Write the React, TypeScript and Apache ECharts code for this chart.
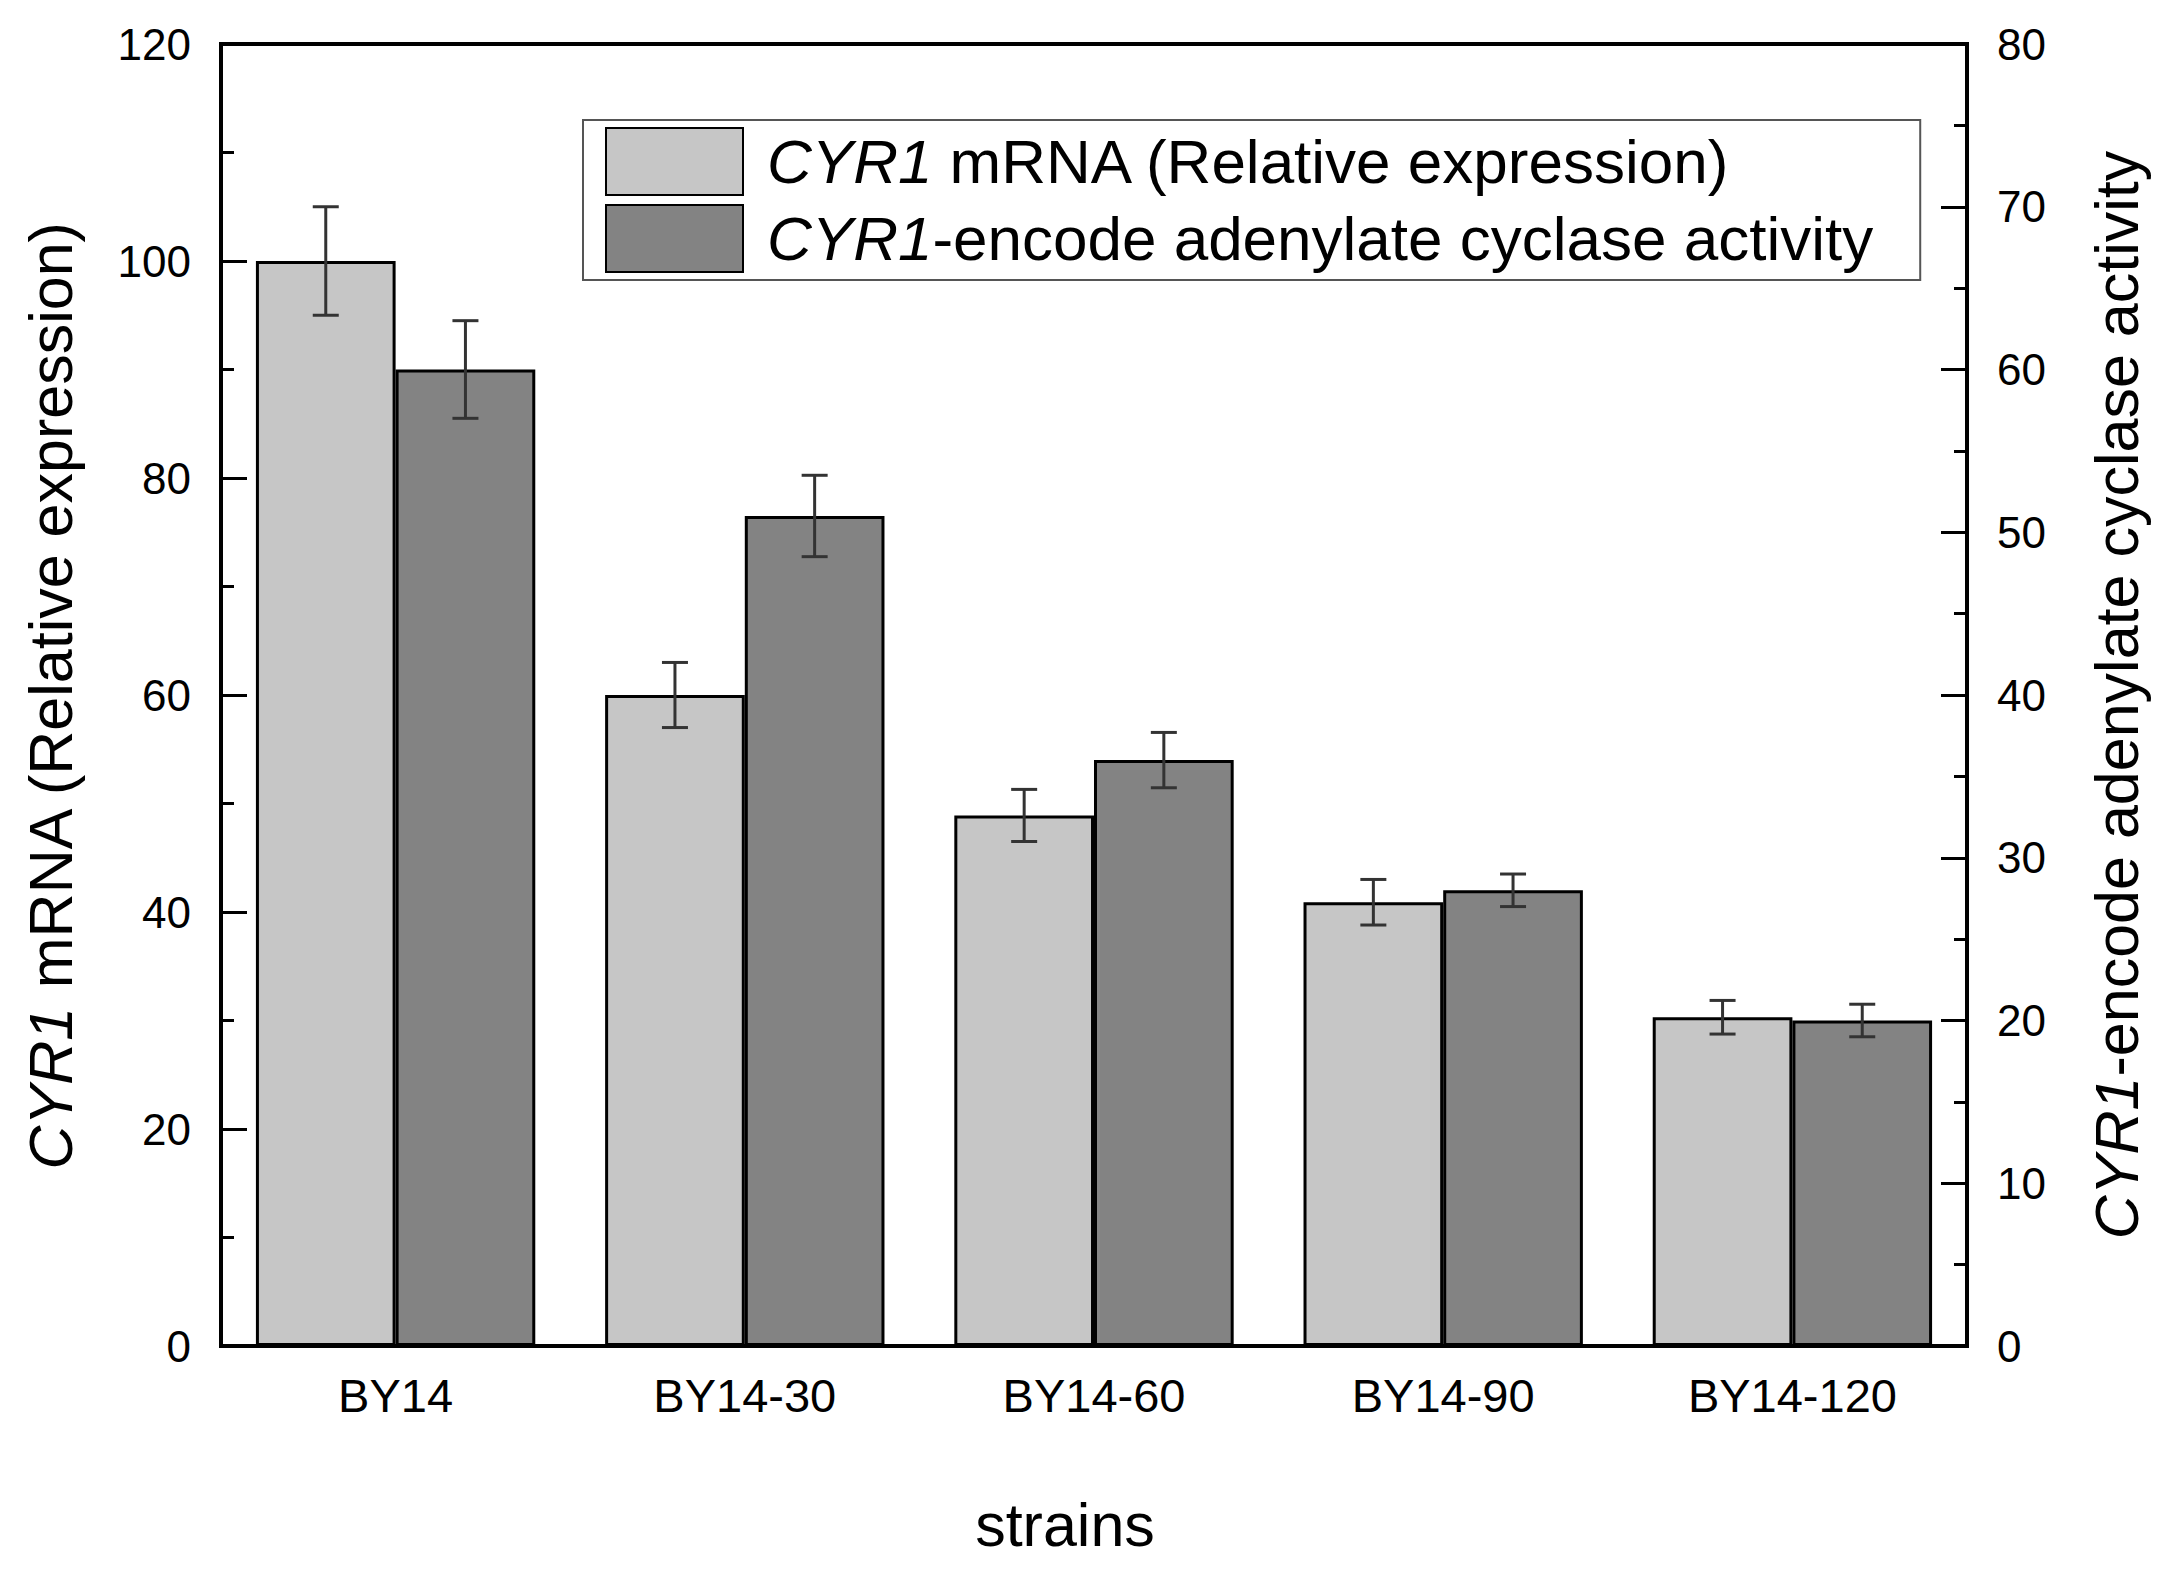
import React, { useEffect, useRef } from 'react';
import * as echarts from 'echarts';

const categories = ['BY14', 'BY14-30', 'BY14-60', 'BY14-90', 'BY14-120'];
const mrnaName = 'CYR1 mRNA (Relative expression)';
const activityName = 'CYR1-encode adenylate cyclase activity';
const mrnaValues = [100, 60, 48.9, 40.9, 30.3];
const mrnaErrors = [5, 3, 2.4, 2.1, 1.55];
const activityValues = [60, 51, 36, 28, 20];
const activityErrors = [3, 2.5, 1.7, 1.0, 1.0];
const leftTicks = [0, 20, 40, 60, 80, 100, 120];
const rightTicks = [0, 10, 20, 30, 40, 50, 60, 70, 80];

const FONT = '"Liberation Sans", Arial, Helvetica, sans-serif';

const italicize = (s: string) => s.replace('CYR1', '{i|CYR1}');

function errorSeries(values: number[], errs: number[], yAxisIndex: number, side: number) {
  return {
    type: 'custom',
    yAxisIndex,
    silent: true,
    z: 10,
    data: values.map((v, i) => [i, v - errs[i], v + errs[i]]),
    encode: { x: 0, y: [1, 2] },
    renderItem: (params: any, api: any) => {
      const x = api.value(0);
      const lo = api.coord([x, api.value(1)]);
      const hi = api.coord([x, api.value(2)]);
      const bandW = api.size([1, 0])[0];
      const cx = lo[0] + side * bandW * 0.2;
      const cap = 13;
      const style = { stroke: '#333', lineWidth: 3 };
      return {
        type: 'group',
        children: [
          { type: 'line', shape: { x1: cx, y1: hi[1], x2: cx, y2: lo[1] }, style },
          { type: 'line', shape: { x1: cx - cap, y1: hi[1], x2: cx + cap, y2: hi[1] }, style },
          { type: 'line', shape: { x1: cx - cap, y1: lo[1], x2: cx + cap, y2: lo[1] }, style },
        ],
      };
    },
  };
}

function yAxis(ticks: number[], position: string, name: string, nameGap: number) {
  return {
    type: 'value',
    position,
    min: ticks[0],
    max: ticks[ticks.length - 1],
    interval: ticks[1] - ticks[0],
    name: italicize(name),
    nameLocation: 'middle',
    nameRotate: 90,
    nameGap,
    nameTextStyle: {
      fontSize: 61,
      fontFamily: FONT,
      color: '#000',
      rich: { i: { fontStyle: 'italic', fontSize: 61, fontFamily: FONT, color: '#000' } },
    },
    axisLine: { show: true, lineStyle: { color: '#000', width: 4 } },
    axisTick: { show: true, inside: true, length: 26, lineStyle: { color: '#000', width: 3 } },
    minorTick: { show: true, splitNumber: 2, length: 13, lineStyle: { color: '#000', width: 3 } },
    splitLine: { show: false },
    axisLabel: { fontSize: 44, fontFamily: FONT, color: '#000', margin: 30 },
  };
}

export default function App() {
  const ref = useRef<HTMLDivElement>(null);
  useEffect(() => {
    if (!ref.current) return;
    const chart = echarts.init(ref.current, undefined, { renderer: 'svg' });
    const barStyle = (color: string) => ({ color, borderColor: '#000', borderWidth: 3 });
    chart.setOption({
      animation: false,
      backgroundColor: '#fff',
      grid: {
        left: 221,
        right: 197,
        top: 44,
        bottom: 224,
        show: true,
        borderColor: '#000',
        borderWidth: 4,
        backgroundColor: 'transparent',
      },
      legend: {
        data: [mrnaName, activityName],
        orient: 'vertical',
        left: 583,
        top: 120,
        padding: [7, 47, 7, 22],
        itemGap: 8,
        itemWidth: 137,
        itemHeight: 67,
        borderColor: '#555',
        borderWidth: 2,
        backgroundColor: '#fff',
        icon: 'rect',
        formatter: (n: string) => italicize(n),
        textStyle: {
          fontSize: 62,
          fontFamily: FONT,
          color: '#000',
          padding: [0, 0, 0, 19],
          rich: { i: { fontStyle: 'italic', fontSize: 62, fontFamily: FONT, color: '#000' } },
        },
      },
      xAxis: {
        type: 'category',
        data: categories,
        name: 'strains',
        nameLocation: 'middle',
        nameGap: 148,
        nameTextStyle: { fontSize: 61, fontFamily: FONT, color: '#000', padding: [0, 58, 0, 0] },
        axisLine: { show: true, lineStyle: { color: '#000', width: 4 } },
        axisTick: { show: false },
        axisLabel: { fontSize: 47, fontFamily: FONT, color: '#000', margin: 26 },
      },
      yAxis: [
        yAxis(leftTicks, 'left', mrnaName, 140),
        yAxis(rightTicks, 'right', activityName, 119),
      ],
      series: [
        {
          name: mrnaName,
          type: 'bar',
          yAxisIndex: 0,
          data: mrnaValues,
          barGap: '0%',
          barCategoryGap: '20%',
          itemStyle: barStyle('#c6c6c6'),
        },
        {
          name: activityName,
          type: 'bar',
          yAxisIndex: 1,
          data: activityValues,
          barGap: '0%',
          barCategoryGap: '20%',
          itemStyle: barStyle('#838383'),
        },
        errorSeries(mrnaValues, mrnaErrors, 0, -1),
        errorSeries(activityValues, activityErrors, 1, 1),
      ],
    });
    return () => chart.dispose();
  }, []);
  return (
    <div
      ref={ref}
      style={{ position: 'fixed', left: 0, top: 0, width: 2164, height: 1570, background: '#fff' }}
    />
  );
}
